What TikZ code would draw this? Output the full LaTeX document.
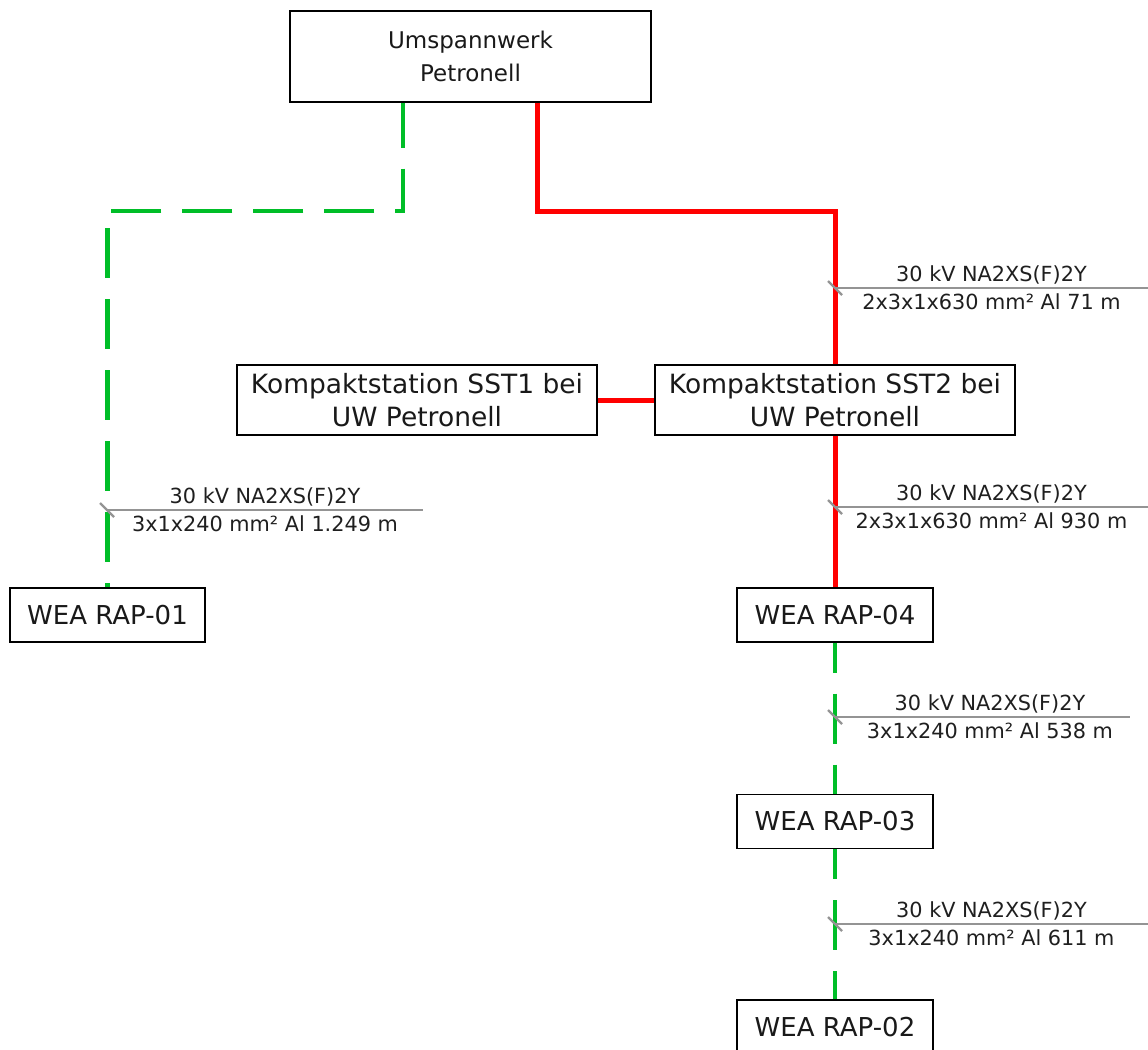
\documentclass[tikz,border=0pt]{standalone}
\usepackage{fontspec}
\setmainfont{DejaVu Sans}
\usetikzlibrary{calc}
\begin{document}
\begin{tikzpicture}[x=1pt,y=-1pt,
  box/.style={draw=black, line width=1.4pt, fill=white, align=center, inner sep=0pt,
    font=\fontsize{26}{33}\selectfont, text=black!90},
  greenline/.style={draw={rgb,255:red,0;green,190;blue,40}, line width=4.8pt, dash pattern=on 50pt off 21pt},
  redline/.style={draw={rgb,255:red,255;green,0;blue,0}, line width=5pt},
  lblline/.style={draw=black!42, line width=2.2pt},
  lbltext/.style={font=\fontsize{20.8}{24}\selectfont, text=black!88, inner sep=0pt},
]
\useasboundingbox (0,0) rectangle (1148,1049);
\fill[white] (0,0) rectangle (1148,1049);

% boxes
\node[box, font=\fontsize{23}{33}\selectfont, minimum width=361pt, minimum height=91pt] (uw) at (470.5,56.5) {Umspannwerk\\Petronell};
\node[box, font=\fontsize{26.5}{33}\selectfont, minimum width=360pt, minimum height=70pt] (sst1) at (417,400) {Kompaktstation SST1 bei\\UW Petronell};
\node[box, font=\fontsize{26.5}{33}\selectfont, minimum width=360pt, minimum height=70pt] (sst2) at (835,400) {Kompaktstation SST2 bei\\UW Petronell};
\node[box, minimum width=195pt, minimum height=54pt] (rap01) at (107.5,615) {WEA RAP-01};
\node[box, minimum width=196pt, minimum height=54pt] (rap04) at (835,615) {WEA RAP-04};
\node[box, minimum width=196pt, minimum height=54pt] (rap03) at (835,821.5) {WEA RAP-03};
\node[box, minimum width=196pt, minimum height=54pt] (rap02) at (835,1027) {WEA RAP-02};

% bend coordinates
\coordinate (g1) at (403,211);
\coordinate (r1) at (537,211);

% connectors
\draw[greenline, dash phase=5pt] (uw.south -| g1) -- (g1) -| (rap01.north);
\draw[redline] (uw.south -| r1) -- (r1) -| (sst2.north);
\draw[redline] (sst1.east) -- (sst2.west);
\draw[redline] (sst2.south) -- (rap04.north);
\draw[greenline, dash phase=20pt] (rap04.south) -- (rap03.north);
\draw[greenline, dash phase=20pt] (rap03.south) -- (rap02.north);

% cable labels
\coordinate (c1) at (835,288);
\coordinate (e1) at (1148,288);
\coordinate (c2) at (107,510);
\coordinate (e2) at (423,510);
\coordinate (c3) at (835,507);
\coordinate (e3) at (1148,507);
\coordinate (c4) at (835,717);
\coordinate (e4) at (1130,717);
\coordinate (c5) at (835,924);
\coordinate (e5) at (1148,924);

\foreach \c/\e in {c1/e1,c2/e2,c3/e3,c4/e4,c5/e5}{
  \draw[lblline] (\c) -- (\e);
  \draw[lblline] ($(\c)+(-7,-7)$) -- ($(\c)+(7,7)$);
}

\node[lbltext, anchor=south] (t1a) at ($(c1)!0.5!(e1)+(0,-4)$) {30 kV NA2XS(F)2Y};
\node[lbltext, anchor=north] (t1b) at ($(c1)!0.5!(e1)+(0,5)$) {2x3x1x630 mm² Al 71 m};
\node[lbltext, anchor=south] (t2a) at ($(c2)!0.5!(e2)+(0,-4)$) {30 kV NA2XS(F)2Y};
\node[lbltext, anchor=north] (t2b) at ($(c2)!0.5!(e2)+(0,5)$) {3x1x240 mm² Al 1.249 m};
\node[lbltext, anchor=south] (t3a) at ($(c3)!0.5!(e3)+(0,-4)$) {30 kV NA2XS(F)2Y};
\node[lbltext, anchor=north] (t3b) at ($(c3)!0.5!(e3)+(0,5)$) {2x3x1x630 mm² Al 930 m};
\node[lbltext, anchor=south] (t4a) at (990,713) {30 kV NA2XS(F)2Y};
\node[lbltext, anchor=north] (t4b) at (990,722) {3x1x240 mm² Al 538 m};
\node[lbltext, anchor=south] (t5a) at ($(c5)!0.5!(e5)+(0,-4)$) {30 kV NA2XS(F)2Y};
\node[lbltext, anchor=north] (t5b) at ($(c5)!0.5!(e5)+(0,5)$) {3x1x240 mm² Al 611 m};
\end{tikzpicture}
\end{document}
